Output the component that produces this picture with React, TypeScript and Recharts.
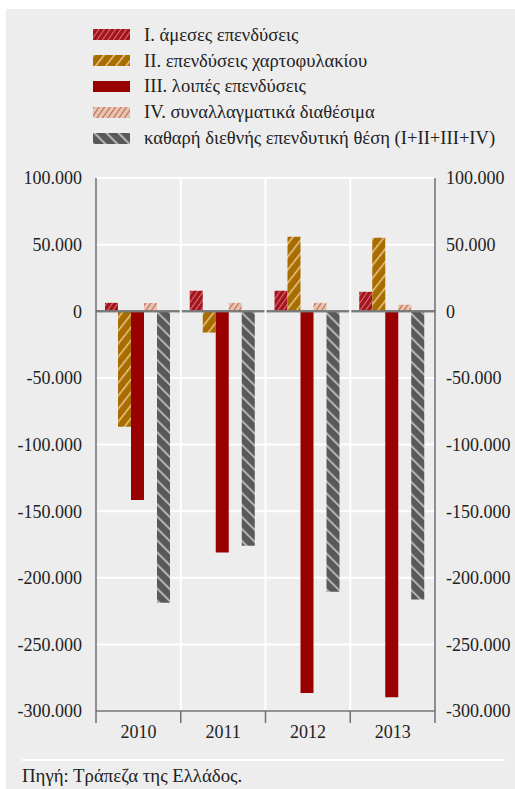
import React from "react";
import {
  BarChart,
  Bar,
  XAxis,
  YAxis,
  CartesianGrid,
  ReferenceLine
} from "recharts";

// εκατ. ευρώ
const years = ["2010", "2011", "2012", "2013"];
const direct = [6300, 15400, 15400, 14600];
const portfolio = [-86700, -16000, 56000, 55200];
const other = [-141700, -181000, -286500, -289600];
const reserves = [6200, 6300, 6300, 4900];
const net = [-218800, -176000, -210600, -216400];

const yTicks = [100000, 50000, 0, -50000, -100000, -150000, -200000, -250000, -300000];

const series = [
  { key: "direct", name: "I. άμεσες επενδύσεις", fill: "url(#hDirect)" },
  { key: "portfolio", name: "II. επενδύσεις χαρτοφυλακίου", fill: "url(#hPortfolio)" },
  { key: "other", name: "III. λοιπές επενδύσεις", fill: "#990000" },
  { key: "reserves", name: "IV. συναλλαγματικά διαθέσιμα", fill: "url(#hReserves)" },
  { key: "net", name: "καθαρή διεθνής επενδυτική θέση (I+II+III+IV)", fill: "url(#hNet)" }
];

const data = years.map((year, i) => ({
  year,
  direct: direct[i],
  portfolio: portfolio[i],
  other: other[i],
  reserves: reserves[i],
  net: net[i]
}));

const W = 515;
const H = 789;
const PLOT_TOP = 178;
const AXIS_H = 78;
const LEFT_W = 96;
const RIGHT_W = 80;

const serif = "'Liberation Serif', 'Times New Roman', serif";

const fmt = (v: number) => {
  const s = Math.abs(v).toString().replace(/\B(?=(\d{3})+(?!\d))/g, ".");
  return (v < 0 ? "-" : "") + s;
};

const tickStyle = { fill: "#222", fontSize: 18, fontFamily: serif };

// year label in the band centre, tick marks and white separators on band edges
function YearTick(props: any) {
  const { x, y, payload, index, visibleTicksCount } = props;
  const half =
    payload && typeof payload.offset === "number" && payload.offset > 0
      ? payload.offset
      : (W - LEFT_W - RIGHT_W) / (2 * (visibleTicksCount || years.length));
  const left = x - half;
  const right = x + half;
  const plotH = H - PLOT_TOP - AXIS_H;
  const last = index === (visibleTicksCount || years.length) - 1;
  return (
    <g>
      {index > 0 && <line x1={left} x2={left} y1={y - plotH} y2={y - 1} stroke="#fff" strokeWidth={2} />}
      <line x1={left} x2={left} y1={y} y2={y + 12} stroke="#6f6f6f" strokeWidth={1.5} />
      {last && <line x1={right} x2={right} y1={y} y2={y + 12} stroke="#6f6f6f" strokeWidth={1.5} />}
      <text x={x} y={y + 21} textAnchor="middle" dominantBaseline="central" {...tickStyle}>
        {payload.value}
      </text>
    </g>
  );
}

function Patterns() {
  return (
    <svg width="0" height="0" style={{ position: "absolute" }}>
      <defs>
        <pattern id="hDirect" width="4.5" height="4.5" patternUnits="userSpaceOnUse" patternTransform="rotate(35)">
          <rect width="4.5" height="4.5" fill="#a3141c" />
          <rect width="1" height="4.5" fill="#d8767c" />
        </pattern>
        <pattern id="hPortfolio" width="8" height="8" patternUnits="userSpaceOnUse" patternTransform="rotate(38)">
          <rect width="8" height="8" fill="#a96c00" />
          <rect width="1.5" height="8" fill="#e9c78e" />
        </pattern>
        <pattern id="hReserves" width="4.5" height="4.5" patternUnits="userSpaceOnUse" patternTransform="rotate(35)">
          <rect width="4.5" height="4.5" fill="#e4c7b2" />
          <rect width="1" height="4.5" fill="#c85a50" />
        </pattern>
        <pattern id="hNet" width="8.5" height="8.5" patternUnits="userSpaceOnUse" patternTransform="rotate(-45)">
          <rect width="8.5" height="8.5" fill="#58595b" />
          <rect width="2" height="8.5" fill="#b4b4b4" />
        </pattern>
      </defs>
    </svg>
  );
}

export default function App() {
  return (
    <div style={{ position: "absolute", left: 0, top: 0, width: W, height: H, overflow: "hidden", background: "#fff", fontFamily: serif }}>
      <Patterns />
      <div style={{ position: "absolute", left: 4, top: -19, fontSize: 18, lineHeight: "18px", color: "#c4161c" }}>
        (εκατ. ευρώ)
      </div>
      <div style={{ position: "absolute", left: 6, top: 9, width: 509, height: 780, background: "#ededed" }} />

      {/* legend */}
      <div style={{ position: "absolute", left: 93, top: 22 }}>
        {series.map((s) => (
          <div key={s.key} style={{ display: "flex", alignItems: "center", height: 25.8 }}>
            <svg width={37} height={11} style={{ marginRight: 14 }}>
              <rect width={37} height={11} fill={s.fill} />
            </svg>
            <span style={{ fontSize: 18.6, color: "#222", whiteSpace: "nowrap" }}>{s.name}</span>
          </div>
        ))}
      </div>

      <div style={{ position: "absolute", left: 0, top: 0 }}>
        <BarChart
          width={W}
          height={H}
          data={data}
          margin={{ top: PLOT_TOP, right: 0, bottom: 0, left: 0 }}
          barCategoryGap={9}
          barGap={0}
        >
          <CartesianGrid yAxisId="l" vertical={false} stroke="#ffffff" strokeWidth={2} />
          <XAxis
            dataKey="year"
            height={AXIS_H}
            interval={0}
            tickSize={0}
            tickMargin={0}
            tickLine={false}
            axisLine={{ stroke: "#6f6f6f", strokeWidth: 1.5 }}
            tick={<YearTick />}
          />
          <YAxis
            yAxisId="l"
            type="number"
            width={LEFT_W}
            domain={[-300000, 100000]}
            allowDataOverflow
            ticks={yTicks}
            interval={0}
            tickFormatter={fmt}
            tickLine={false}
            tickMargin={8}
            axisLine={{ stroke: "#6f6f6f", strokeWidth: 1.5 }}
            tick={tickStyle}
          />
          <YAxis
            yAxisId="r"
            type="number"
            orientation="right"
            width={RIGHT_W}
            domain={[-300000, 100000]}
            allowDataOverflow
            ticks={yTicks}
            interval={0}
            tickFormatter={fmt}
            tickLine={false}
            tickMargin={5}
            axisLine={{ stroke: "#6f6f6f", strokeWidth: 1.5 }}
            tick={{ ...tickStyle, textAnchor: "start" }}
          />
          {series.map((s) => (
            <Bar key={s.key} yAxisId="l" dataKey={s.key} name={s.name} fill={s.fill} isAnimationActive={false} />
          ))}
          <ReferenceLine yAxisId="l" y={0} stroke="#7a7a7a" strokeWidth={2} />
          <ReferenceLine yAxisId="r" y={0} stroke="#7a7a7a" strokeWidth={2} />
        </BarChart>
      </div>

      <div style={{ position: "absolute", left: 22, top: 759, width: 483, height: 2, background: "#fff" }} />
      <div style={{ position: "absolute", left: 22, top: 765, fontSize: 18.8, lineHeight: "22px", color: "#222" }}>
        Πηγή: Τράπεζα της Ελλάδος.
      </div>
    </div>
  );
}
